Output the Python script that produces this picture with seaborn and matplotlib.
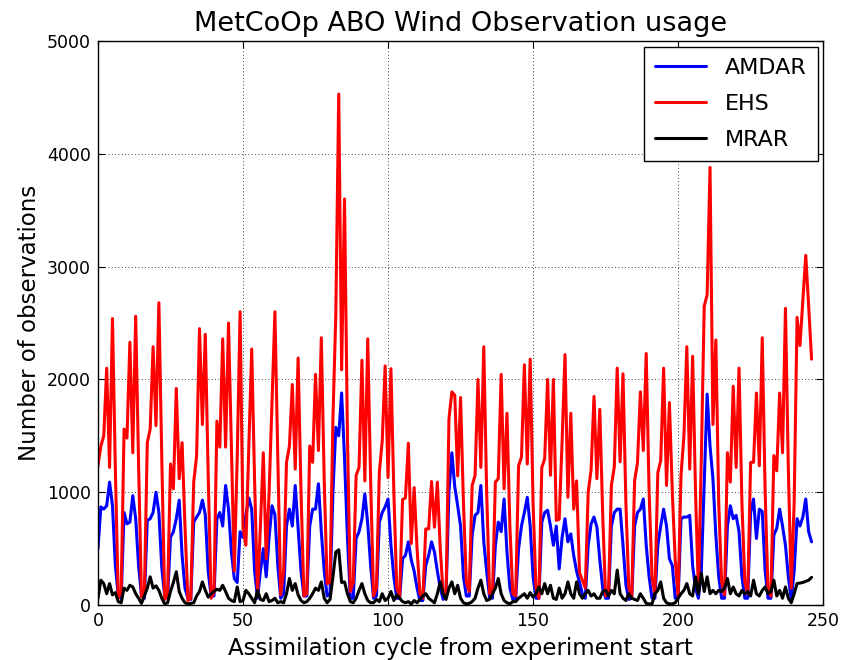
import numpy as np
import pandas as pd
import matplotlib
matplotlib.use("Agg")
import matplotlib.pyplot as plt
import seaborn as sns

# Observations used per assimilation cycle (3-hourly cycles, 8 per day)
ehs = [
    1235, 1410, 1500, 2100, 1220, 2540, 1200, 60,
    120, 1560, 1480, 2330, 1350, 2560, 1250, 70,
    100, 1440, 1560, 2290, 1590, 2680, 1300, 50,
    90, 1250, 1030, 1920, 1120, 1440, 700, 40,
    60, 1090, 1320, 2450, 1600, 2400, 1150, 60,
    110, 1630, 1400, 2360, 1400, 2500, 1400, 300,
    1300, 2600, 680, 530, 1400, 2270, 1100, 90,
    700, 1350, 410, 1000, 1800, 2600, 1300, 90,
    300, 1265, 1410, 1955, 1205, 2190, 1000, 80,
    100, 1410, 1265, 2045, 1370, 2370, 1100, 190,
    200, 1650, 2590, 4530, 2085, 3600, 1500, 120,
    200, 1150, 1220, 2170, 1100, 2360, 1100, 80,
    150, 1180, 1455, 2120, 1130, 2095, 1000, 150,
    80, 935, 950, 1435, 545, 1040, 500, 100,
    60, 675, 675, 1095, 690, 1090, 500, 100,
    80, 1650, 1890, 1860, 1145, 1840, 900, 200,
    120, 1060, 1150, 2000, 1220, 2290, 1000, 100,
    100, 1090, 1120, 2045, 1030, 1700, 700, 100,
    80, 1235, 1310, 2130, 1250, 2180, 900, 150,
    60, 1220, 1295, 2000, 1150, 2000, 750, 760,
    1450, 2220, 955, 1700, 850, 1100, 290, 220,
    150, 1000, 1200, 1850, 1120, 1735, 800, 80,
    100, 1060, 1225, 2100, 1270, 2050, 900, 150,
    80, 1100, 1265, 1890, 1370, 2230, 1000, 250,
    90, 1175, 1280, 2100, 1060, 1795, 1000, 400,
    80, 1150, 1500, 2290, 1205, 2205, 1000, 120,
    1300, 2650, 2750, 3880, 1600, 2350, 900, 200,
    90, 1350, 1090, 1940, 1220, 2100, 900, 200,
    100, 1265, 1265, 1880, 1235, 2370, 1000, 120,
    80, 1325, 1190, 1880, 1350, 2630, 1200, 150,
    900, 2550, 2300, 2700, 3100, 2650, 2180,
]

amdar = [
    500, 870, 850, 880, 1090, 880, 350, 80,
    60, 820, 720, 735, 970, 765, 350, 80,
    60, 750, 765, 820, 1000, 820, 330, 80,
    60, 600, 650, 765, 930, 440, 150, 60,
    50, 735, 780, 820, 930, 800, 300, 80,
    80, 765, 820, 700, 1060, 850, 470, 235,
    200, 650, 600, 800, 950, 850, 300, 60,
    300, 500, 250, 600, 880, 800, 350, 60,
    100, 700, 850, 700, 1060, 675, 300, 80,
    80, 700, 850, 850, 1075, 650, 300, 80,
    100, 1000, 1575, 1500, 1880, 1300, 600, 60,
    60, 590, 650, 765, 985, 720, 350, 60,
    80, 735, 820, 870, 940, 530, 250, 60,
    60, 410, 440, 560, 400, 300, 150, 40,
    40, 350, 440, 560, 470, 300, 150, 50,
    100, 1000, 1350, 1050, 880, 700, 250, 80,
    80, 620, 795, 820, 1060, 560, 300, 70,
    60, 530, 735, 650, 940, 470, 150, 50,
    60, 500, 700, 820, 955, 700, 250, 60,
    60, 735, 820, 840, 700, 530, 700, 320,
    600, 765, 560, 630, 440, 300, 200, 100,
    60, 530, 720, 780, 690, 400, 150, 60,
    60, 700, 820, 850, 850, 530, 180, 50,
    60, 700, 820, 850, 940, 530, 250, 60,
    60, 530, 700, 850, 700, 410, 350, 60,
    60, 765, 780, 780, 795, 350, 150, 60,
    300, 1100, 1870, 1410, 1120, 620, 250, 60,
    60, 700, 880, 765, 795, 650, 250, 60,
    60, 820, 940, 590, 850, 830, 300, 60,
    60, 620, 680, 850, 700, 530, 250, 50,
    300, 765, 700, 780, 940, 650, 560,
]

mrar = [
    60, 220, 190, 100, 190, 90, 110, 30,
    20, 150, 130, 175, 160, 100, 60, 15,
    80, 150, 250, 150, 170, 130, 60, 10,
    20, 120, 200, 295, 120, 60, 20, 10,
    15, 20, 80, 120, 205, 130, 70, 100,
    120, 140, 130, 175, 120, 60, 40, 30,
    160, 30, 40, 130, 100, 60, 20, 130,
    50, 40, 100, 30, 40, 60, 20, 30,
    20, 100, 235, 130, 190, 90, 40, 20,
    30, 60, 100, 150, 130, 205, 60, 20,
    50, 250, 470, 490, 200, 205, 100, 30,
    20, 60, 130, 190, 100, 40, 20, 20,
    50, 30, 100, 40, 60, 120, 40, 90,
    60, 30, 20, 30, 10, 40, 20, 50,
    80, 100, 60, 40, 20, 100, 205, 100,
    50, 150, 205, 100, 175, 60, 20, 10,
    15, 30, 60, 150, 220, 100, 40, 50,
    100, 150, 235, 100, 40, 20, 10, 30,
    30, 60, 80, 100, 60, 110, 70, 100,
    160, 100, 190, 100, 175, 60, 50, 150,
    60, 100, 205, 100, 60, 205, 100, 60,
    100, 130, 80, 100, 60, 60, 120, 130,
    80, 130, 100, 310, 100, 60, 40, 100,
    60, 50, 40, 100, 60, 15, 10, 10,
    100, 130, 205, 60, 20, 10, 10, 20,
    60, 100, 130, 190, 100, 80, 250, 100,
    280, 120, 250, 100, 130, 100, 130, 120,
    150, 235, 100, 160, 100, 80, 130, 100,
    120, 80, 220, 100, 80, 130, 160, 100,
    120, 220, 80, 130, 60, 160, 60, 20,
    100, 190, 195, 200, 210, 220, 245,
]

series_names = ["AMDAR", "EHS", "MRAR"]
series_colors = {"AMDAR": "#0000ff", "EHS": "#ff0000", "MRAR": "#000000"}
x_ticks = [0, 50, 100, 150, 200, 250]
y_ticks = [0, 1000, 2000, 3000, 4000, 5000]

cycle = np.arange(len(ehs))
frame = pd.DataFrame({"cycle": cycle, "AMDAR": amdar, "EHS": ehs, "MRAR": mrar})
long = frame.melt(id_vars="cycle", var_name="type", value_name="count")

sns.set_theme(style="white")
plt.rcParams["font.family"] = ["DejaVu Sans"]
plt.rcParams["xtick.direction"] = "in"
plt.rcParams["ytick.direction"] = "in"
plt.rcParams["text.color"] = "black"
plt.rcParams["axes.labelcolor"] = "black"
plt.rcParams["xtick.color"] = "black"
plt.rcParams["ytick.color"] = "black"

fig = plt.figure(figsize=(8.46, 6.6), dpi=100)
ax = fig.add_axes([0.1158, 0.0833, 0.8572, 0.8545])

for name in series_names:
    sns.lineplot(data=long[long["type"] == name], x="cycle", y="count",
                 color=series_colors[name], linewidth=2.2, label=name, ax=ax)

ax.set_xlim(0, 250)
ax.set_ylim(0, 5000)
ax.set_xticks(x_ticks)
ax.set_yticks(y_ticks)
ax.tick_params(axis="both", which="major", labelsize=12.5, length=5,
               width=0.8, color="black", labelcolor="black", top=True,
               right=True, bottom=True, left=True, pad=5)
ax.grid(True, color="black", linestyle=(0, (1, 3)), linewidth=0.6)
for spine in ax.spines.values():
    spine.set_color("black")
    spine.set_linewidth(1.0)

ax.set_title("MetCoOp ABO Wind Observation usage", fontsize=19.5, pad=7,
             color="black")
ax.set_xlabel("Assimilation cycle from experiment start", fontsize=16.5,
              labelpad=5, color="black")
ax.set_ylabel("Number of observations", fontsize=16.5, labelpad=4,
              color="black")

leg = ax.legend(loc="upper right", fontsize=16, frameon=True, fancybox=False,
                edgecolor="black", framealpha=1.0, handlelength=2.3,
                labelspacing=0.72, borderpad=0.5, handletextpad=0.85,
                borderaxespad=0.25)
leg.get_frame().set_linewidth(1.0)
for text in leg.get_texts():
    text.set_color("black")

fig.savefig("out.png", dpi=100)
